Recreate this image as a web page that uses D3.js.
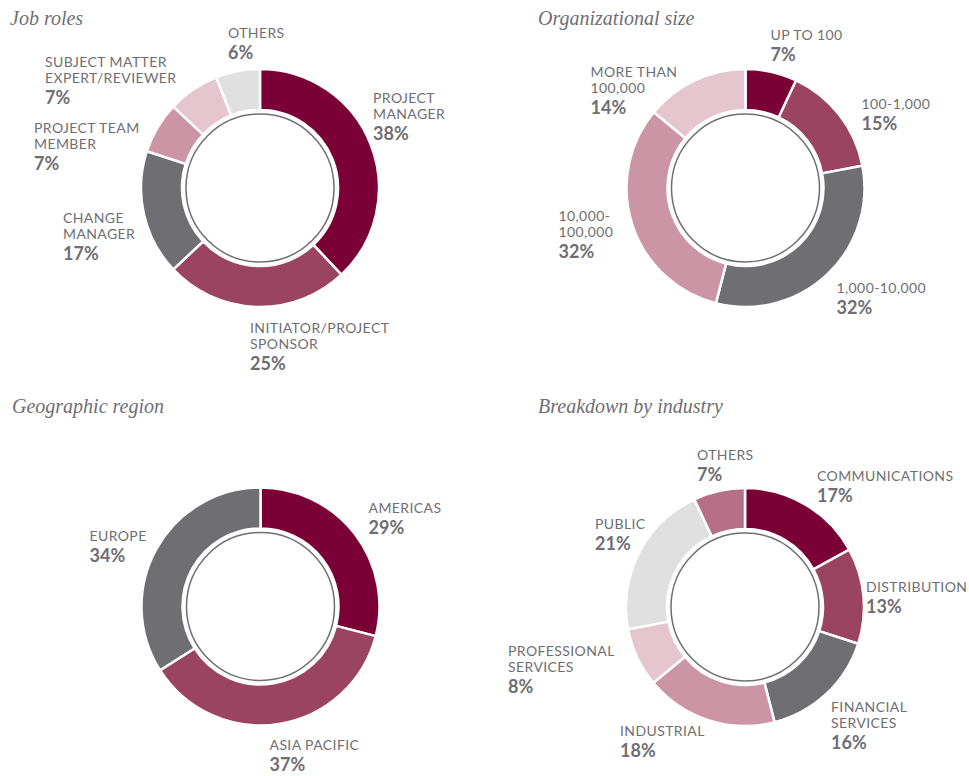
<!DOCTYPE html>
<html>
<head>
<meta charset="utf-8">
<script src="https://cdn.jsdelivr.net/npm/d3@7"></script>
<style>
  body { margin: 0; background: #fff; }
  .title { font-family: "Liberation Serif", serif; font-style: italic; font-size: 20px; fill: #6f6e73; }
  .lbl { font-family: Lato, sans-serif; font-size: 14px; letter-spacing: 0.4px; fill: #6f6e73; }
  .pct { font-family: Lato, sans-serif; font-size: 18px; font-weight: bold; fill: #6f6e73; }
</style>
</head>
<body>
<script>
// data
const jobRoles = ['PROJECT\nMANAGER', 'INITIATOR/PROJECT\nSPONSOR', 'CHANGE\nMANAGER', 'PROJECT TEAM\nMEMBER', 'SUBJECT MATTER\nEXPERT/REVIEWER', 'OTHERS'];
const jobValues = [38, 25, 17, 7, 7, 6];

const orgSizes = ['UP TO 100', '100-1,000', '1,000-10,000', '10,000-\n100,000', 'MORE THAN\n100,000'];
const orgValues = [7, 15, 32, 32, 14];

const regions = ['AMERICAS', 'ASIA PACIFIC', 'EUROPE'];
const regionValues = [29, 37, 34];

const industries = ['COMMUNICATIONS', 'DISTRIBUTION', 'FINANCIAL\nSERVICES', 'INDUSTRIAL', 'PROFESSIONAL\nSERVICES', 'PUBLIC', 'OTHERS'];
const industryValues = [17, 13, 16, 18, 8, 21, 7];

const titles = ['Job roles', 'Organizational size', 'Geographic region', 'Breakdown by industry'];

// colours
const dark = '#7a0036', mid = '#9b4462', grey = '#6f6e73', pink = '#cc95a6', lightPink = '#e5c6ce', lightGrey = '#e0e0e0', rose = '#b66f87';

// layout: chart centre, title position, label offsets (left x, first baseline) relative to centre
const panels = [
  { cats: jobRoles, vals: jobValues, cx: 260, cy: 188, tx: 10, ty: 25,
    colors: [dark, mid, grey, pink, lightPink, lightGrey],
    labels: [[113, -85], [-10, 145], [-197, 35], [-226, -55], [-215, -121], [-32, -150]] },
  { cats: orgSizes, vals: orgValues, cx: 745.5, cy: 188, tx: 538, ty: 25,
    colors: [dark, mid, grey, pink, lightPink],
    labels: [[25, -148], [116, -79], [91, 105], [-187, 33], [-155, -111]] },
  { cats: regions, vals: regionValues, cx: 260.5, cy: 606.5, tx: 12, ty: 413,
    colors: [dark, mid, grey],
    labels: [[108, -94], [9, 143], [-171, -66]] },
  { cats: industries, vals: industryValues, cx: 745, cy: 607, tx: 538, ty: 413,
    colors: [dark, mid, grey, pink, lightPink, lightGrey, rose],
    labels: [[72, -126], [121, -15], [86, 105], [-125, 129], [-237, 49], [-150, -78], [-48, -147]] }
];

const width = 969;
const height = 776;
const outerR = 119;
const innerR = 78;

const svg = d3.select('body').append('svg').attr('width', width).attr('height', height);

const pie = d3.pie().sort(null).value(d => d);
const arc = d3.arc().innerRadius(innerR).outerRadius(outerR);

panels.forEach((p, k) => {
  svg.append('text').attr('class', 'title').attr('x', p.tx).attr('y', p.ty).text(titles[k]);

  const g = svg.append('g').attr('transform', `translate(${p.cx},${p.cy})`);

  g.selectAll('path.slice')
    .data(pie(p.vals))
    .join('path')
    .attr('class', 'slice')
    .attr('d', arc)
    .attr('fill', (d, i) => p.colors[i])
    .attr('stroke', '#fff')
    .attr('stroke-width', 2.5)
    .attr('stroke-linejoin', 'miter');

  g.append('circle')
    .attr('r', 74)
    .attr('fill', '#fff')
    .attr('stroke', grey)
    .attr('stroke-width', 1.5);

  p.cats.forEach((c, i) => {
    const [lx, ly] = p.labels[i];
    const lines = c.split('\n');
    const t = g.append('text').attr('class', 'lbl');
    lines.forEach((line, j) => {
      t.append('tspan').attr('x', lx).attr('y', ly + j * 16).text(line);
    });
    g.append('text').attr('class', 'pct')
      .attr('x', lx)
      .attr('y', ly + (lines.length - 1) * 16 + 21)
      .text(p.vals[i] + '%');
  });
});
</script>
</body>
</html>
